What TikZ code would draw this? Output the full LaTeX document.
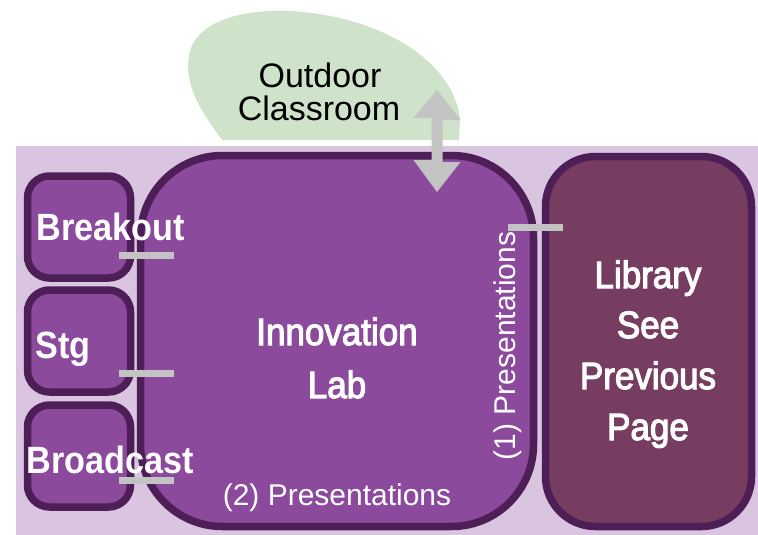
\documentclass[tikz,border=0pt]{standalone}
\usepackage{fontspec}
\setmainfont{Liberation Sans}
\newfontfamily\condbold[FakeStretch=0.9]{Liberation Sans Bold}
\newfontfamily\condmed[FakeStretch=0.92,FakeBold=3]{Liberation Sans}
\definecolor{lav}{HTML}{D9C5E0}
\definecolor{leaf}{HTML}{CFE2CA}
\definecolor{labfill}{HTML}{8B4A9C}
\definecolor{edge}{HTML}{4E1F57}
\definecolor{libfill}{HTML}{763D61}
\definecolor{bargray}{HTML}{C3C3C3}
\tikzset{
  room/.style={draw=edge, line width=7.5pt, fill=labfill, inner sep=0pt},
  smallroom/.style={room, minimum width=103pt, minimum height=102pt, rounded corners=22pt},
  bar/.style={draw=bargray, line width=7pt},
  bigtext/.style={text=white, font=\condmed\fontsize{38}{44}\selectfont, anchor=base},
  boldtext/.style={text=white, font=\condbold\fontsize{38}{44}\selectfont, anchor=base},
  plaintext/.style={font=\fontsize{30}{36}\selectfont, anchor=base},
}
\begin{document}
\begin{tikzpicture}[x=1pt, y=-1pt]
\useasboundingbox (0,0) rectangle (758,535);
% background
\fill[lav] (16,146) rectangle (758,535);
% outdoor blob
\fill[leaf] (222,140) .. controls (200,110) and (184,85) .. (189,55)
  .. controls (195,22) and (240,9) .. (290,11)
  .. controls (380,16) and (452,60) .. (460,118) -- (459,140) -- cycle;
\node[plaintext, font=\fontsize{34}{40}\selectfont] (outa) at (320,88) {Outdoor};
\node[plaintext, font=\fontsize{34}{40}\selectfont] (outb) at (319,120) {Classroom};
\coordinate (outdoor) at (437,90);
% rooms
\node[room, minimum width=393pt, minimum height=371pt, rounded corners=82pt] (lab) at (337,341) {};
\node[room, fill=libfill, minimum width=206pt, minimum height=370pt, rounded corners=50pt] (lib) at (648.5,341.5) {};
\node[smallroom] (breakout) at (79,227) {};
\node[smallroom] (stg) at (79,341) {};
\node[smallroom] (broad) at (79,456) {};
% texts
\node[boldtext] (tb) at (111,240) {Breakout};
\node[boldtext] (ts) at (63,358) {Stg};
\node[boldtext] (tbc) at (110,473) {Broadcast};
\node[bigtext] (ti) at (337,345) {Innovation};
\node[bigtext] (tl) at (337,398) {Lab};
\node[bigtext] (l1) at (648,288) {Library};
\node[bigtext] (l2) at (648,338) {See};
\node[bigtext] (l3) at (648,389) {Previous};
\node[bigtext] (l4) at (648,440) {Page};
\node[plaintext, text=white] (p2) at (337,505) {(2) Presentations};
\node[plaintext, text=white, rotate=90] (p1) at (515,346) {(1) Presentations};
% connectors
\draw[bar] ([shift={(-15,28)}]breakout.east) -- ++(55,0);
\draw[bar] ([shift={(-15,32)}]stg.east) -- ++(55,0);
\draw[bar] ([shift={(-15,24)}]broad.east) -- ++(55,0);
\draw[bar] ([shift={(-34,-114)}]lib.west) -- ++(55,0);
% double arrow
\fill[bargray] (outdoor) -- ++(23.5,30) -- ++(-18,0) -- ++(0,42) -- ++(18,0)
  -- (437,192) -- ++(-23.5,-32) -- ++(18,0) -- ++(0,-42) -- ++(-18,0) -- cycle;
\end{tikzpicture}
\end{document}
